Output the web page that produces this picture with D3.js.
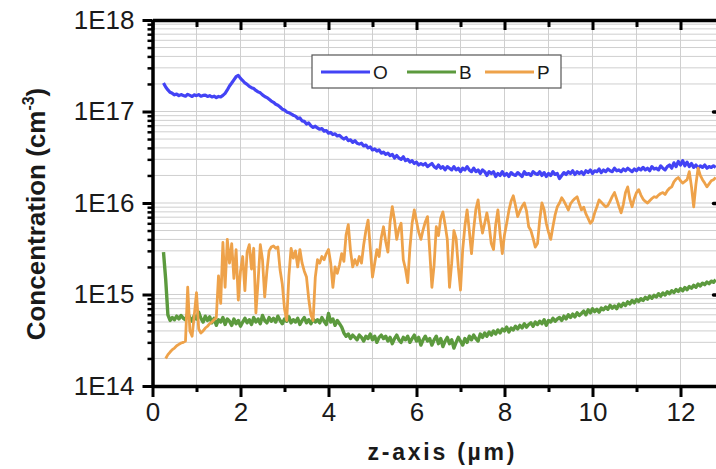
<!DOCTYPE html>
<html lang="en">
<head>
<meta charset="UTF-8">
<title>SIMS depth profile</title>
<script src="https://cdn.jsdelivr.net/npm/d3@7/dist/d3.min.js"></script>
<style>
  body { margin: 0; background: #fff; }
  svg { display: block; font-family: "Liberation Sans", Arial, sans-serif; }
  .grid line { stroke: #cfcfcf; stroke-width: 1; }
  .axis path, .axis line { stroke: #000; }
  .axis text { fill: #1a1a1a; font-size: 26px; }
</style>
</head>
<body>
<div id="chart"></div>
<script>
// depth sampling (µm) of each profile
const depthStep = 0.05;
const oStart = 0.25, bStart = 0.25, pStart = 0.30;

// O concentration (cm^-3), every 0.05 µm from 0.25 µm
const oxygen = [
  2.05e17, 1.85e17, 1.72e17, 1.62e17, 1.58e17, 1.52e17, 1.55e17, 1.49e17, 1.53e17, 1.50e17,
  1.47e17, 1.54e17, 1.50e17, 1.46e17, 1.52e17, 1.49e17, 1.53e17, 1.47e17, 1.50e17, 1.51e17,
  1.46e17, 1.49e17, 1.44e17, 1.47e17, 1.42e17, 1.46e17, 1.44e17, 1.50e17, 1.58e17, 1.72e17,
  1.90e17, 2.05e17, 2.22e17, 2.40e17, 2.48e17, 2.30e17, 2.18e17, 2.05e17, 1.98e17, 1.88e17,
  1.82e17, 1.78e17, 1.70e17, 1.64e17, 1.60e17, 1.52e17, 1.46e17, 1.42e17, 1.36e17, 1.30e17,
  1.26e17, 1.20e17, 1.17e17, 1.12e17, 1.06e17, 1.04e17, 9.9e16, 9.7e16, 9.4e16, 9.1e16,
  8.9e16, 8.4e16, 8.5e16, 7.9e16, 7.8e16, 7.3e16, 7.5e16, 7.0e16, 6.7e16, 6.9e16,
  6.6e16, 6.4e16, 6.5e16, 6.1e16, 6.2e16, 5.8e16, 5.9e16, 5.6e16, 5.7e16, 5.4e16,
  5.5e16, 5.2e16, 5.0e16, 5.2e16, 4.8e16, 4.9e16, 4.6e16, 4.8e16, 4.5e16, 4.4e16,
  4.5e16, 4.2e16, 4.3e16, 4.0e16, 4.1e16, 3.8e16, 3.9e16, 3.7e16, 3.8e16, 3.5e16,
  3.6e16, 3.4e16, 3.5e16, 3.3e16, 3.4e16, 3.1e16, 3.3e16, 3.1e16, 3.0e16, 3.2e16,
  2.9e16, 3.0e16, 2.8e16, 2.9e16, 2.7e16, 2.8e16, 2.6e16, 2.7e16, 2.6e16, 2.7e16,
  2.5e16, 2.6e16, 2.7e16, 2.5e16, 2.4e16, 2.6e16, 2.4e16, 2.5e16, 2.3e16, 2.5e16,
  2.4e16, 2.3e16, 2.5e16, 2.3e16, 2.4e16, 2.2e16, 2.4e16, 2.3e16, 2.5e16, 2.3e16,
  2.2e16, 2.4e16, 2.2e16, 2.3e16, 2.1e16, 2.3e16, 2.2e16, 2.0e16, 2.2e16, 2.1e16,
  2.2e16, 1.95e16, 2.1e16, 2.0e16, 2.2e16, 2.0e16, 2.1e16, 1.95e16, 2.15e16, 2.05e16,
  2.0e16, 2.15e16, 2.05e16, 1.95e16, 2.2e16, 2.05e16, 2.1e16, 2.0e16, 2.2e16, 2.1e16,
  2.05e16, 2.2e16, 2.0e16, 2.15e16, 1.95e16, 2.1e16, 2.0e16, 2.2e16, 2.05e16, 2.1e16,
  1.85e16, 2.0e16, 2.15e16, 2.05e16, 2.2e16, 2.1e16, 2.25e16, 2.05e16, 2.2e16, 2.1e16,
  2.2e16, 2.05e16, 2.25e16, 2.15e16, 2.3e16, 2.1e16, 2.25e16, 2.2e16, 2.35e16, 2.15e16,
  2.3e16, 2.2e16, 2.35e16, 2.25e16, 2.2e16, 2.4e16, 2.25e16, 2.3e16, 2.2e16, 2.35e16,
  2.25e16, 2.4e16, 2.3e16, 2.2e16, 2.35e16, 2.25e16, 2.4e16, 2.3e16, 2.45e16, 2.3e16,
  2.4e16, 2.25e16, 2.5e16, 2.35e16, 2.4e16, 2.3e16, 2.55e16, 2.4e16, 2.3e16, 2.5e16,
  2.6e16, 2.4e16, 2.75e16, 2.5e16, 2.85e16, 2.6e16, 2.9e16, 2.55e16, 2.8e16, 2.5e16,
  2.7e16, 2.45e16, 2.6e16, 2.4e16, 2.55e16, 2.45e16, 2.6e16, 2.4e16, 2.5e16, 2.45e16,
  2.55e16, 2.45e16
];

// B concentration, every 0.05 µm from 0.25 µm
const boron = [
  2.9e15, 1.45e15, 6.0e14, 5.2e14, 5.6e14, 5.3e14, 5.8e14, 5.4e14, 5.9e14, 5.5e14,
  5.3e14, 6.2e14, 5.6e14, 5.1e14, 5.9e14, 5.4e14, 6.4e14, 5.5e14, 5.0e14, 5.8e14,
  5.2e14, 5.7e14, 4.9e14, 5.5e14, 4.6e14, 5.3e14, 5.0e14, 5.6e14, 4.7e14, 5.4e14,
  5.1e14, 4.6e14, 5.4e14, 4.8e14, 5.2e14, 4.5e14, 5.0e14, 5.5e14, 4.9e14, 5.3e14,
  4.7e14, 5.6e14, 5.0e14, 5.4e14, 4.8e14, 5.9e14, 5.2e14, 4.9e14, 5.6e14, 5.1e14,
  5.5e14, 5.0e14, 5.8e14, 5.2e14, 4.8e14, 5.4e14, 5.1e14, 5.7e14, 4.9e14, 5.3e14,
  5.0e14, 5.5e14, 4.7e14, 5.2e14, 5.6e14, 4.9e14, 5.3e14, 4.8e14, 5.4e14, 5.0e14,
  5.3e14, 4.9e14, 5.6e14, 5.1e14, 4.7e14, 6.2e14, 5.0e14, 5.4e14, 4.6e14, 5.2e14,
  4.8e14, 4.4e14, 3.8e14, 3.5e14, 3.7e14, 3.3e14, 3.6e14, 3.4e14, 3.2e14, 3.6e14,
  3.4e14, 3.1e14, 3.5e14, 3.3e14, 3.7e14, 3.2e14, 3.5e14, 3.0e14, 3.4e14, 3.6e14,
  3.3e14, 3.5e14, 3.1e14, 3.4e14, 2.9e14, 3.3e14, 3.6e14, 3.2e14, 3.0e14, 3.4e14,
  3.2e14, 3.5e14, 3.0e14, 3.3e14, 3.6e14, 3.1e14, 3.4e14, 2.8e14, 3.2e14, 3.5e14,
  3.1e14, 3.3e14, 2.8e14, 3.2e14, 3.5e14, 2.9e14, 3.3e14, 2.7e14, 3.1e14, 3.4e14,
  2.9e14, 3.2e14, 2.6e14, 3.0e14, 3.4e14, 3.1e14, 2.8e14, 3.3e14, 3.0e14, 3.5e14,
  3.2e14, 3.6e14, 3.3e14, 3.1e14, 3.7e14, 3.4e14, 3.8e14, 3.5e14, 3.9e14, 3.6e14,
  4.0e14, 3.7e14, 4.1e14, 3.8e14, 4.2e14, 4.0e14, 4.4e14, 3.9e14, 4.3e14, 4.1e14,
  4.5e14, 4.2e14, 4.6e14, 4.3e14, 4.8e14, 4.4e14, 4.7e14, 4.9e14, 4.5e14, 5.0e14,
  4.7e14, 5.1e14, 4.8e14, 5.3e14, 4.6e14, 5.2e14, 5.0e14, 5.5e14, 5.1e14, 5.4e14,
  5.6e14, 5.2e14, 5.8e14, 5.4e14, 6.0e14, 5.6e14, 6.1e14, 5.7e14, 6.3e14, 5.9e14,
  6.2e14, 6.6e14, 6.0e14, 6.8e14, 6.3e14, 7.0e14, 6.5e14, 6.9e14, 6.4e14, 7.1e14,
  6.8e14, 7.3e14, 6.9e14, 7.6e14, 7.1e14, 7.5e14, 7.0e14, 7.8e14, 7.4e14, 8.0e14,
  7.6e14, 8.3e14, 7.9e14, 8.6e14, 8.1e14, 8.8e14, 8.4e14, 9.0e14, 8.6e14, 9.3e14,
  8.9e14, 9.6e14, 9.1e14, 9.8e14, 9.4e14, 1.02e15, 9.6e14, 1.04e15, 9.9e14, 1.07e15,
  1.02e15, 1.10e15, 1.05e15, 1.13e15, 1.08e15, 1.16e15, 1.10e15, 1.19e15, 1.13e15, 1.22e15,
  1.17e15, 1.26e15, 1.20e15, 1.30e15, 1.24e15, 1.33e15, 1.28e15, 1.37e15, 1.31e15, 1.40e15,
  1.36e15, 1.45e15
];

// P concentration, every 0.05 µm from 0.30 µm
const phosphorus = [
  2.0e14, 2.2e14, 2.35e14, 2.5e14, 2.6e14, 2.75e14, 2.85e14, 2.95e14, 3.0e14, 3.1e14,
  1.2e15, 4.0e14, 3.5e14, 6.0e14, 1.05e15, 4.2e14, 3.8e14, 4.0e14, 4.3e14, 4.5e14,
  4.8e14, 5.0e14, 5.3e14, 5.6e14, 1.6e15, 8.0e14, 3.7e15, 1.2e15, 4.0e15, 2.2e15,
  3.6e15, 1.5e15, 3.1e15, 8.7e14, 1.8e15, 2.6e15, 1.1e15, 2.9e15, 3.5e15, 1.9e15,
  3.2e15, 6.3e14, 1.4e15, 3.5e15, 2.4e15, 9.4e14, 1.8e15, 3.0e15, 3.3e15, 3.4e15,
  3.2e15, 3.3e15, 1.85e15, 1.3e15, 7.0e14, 5.2e14, 1.6e15, 3.2e15, 2.5e15, 3.0e15,
  2.0e15, 3.1e15, 2.2e15, 1.8e15, 1.55e15, 9.0e14, 6.0e14, 5.2e14, 1.55e15, 2.4e15,
  2.2e15, 2.6e15, 2.4e15, 2.8e15, 3.1e15, 2.2e15, 1.2e15, 2.0e15, 1.7e15, 2.1e15,
  2.8e15, 2.3e15, 4.5e15, 5.8e15, 3.0e15, 2.0e15, 2.4e15, 2.1e15, 2.6e15, 2.2e15,
  3.5e15, 5.0e15, 6.5e15, 3.2e15, 1.55e15, 2.2e15, 3.1e15, 2.6e15, 4.2e15, 5.5e15,
  3.8e15, 2.9e15, 6.2e15, 9.1e15, 6.5e15, 4.0e15, 5.2e15, 6.0e15, 2.4e15, 1.9e15,
  1.35e15, 3.2e15, 6.0e15, 8.4e15, 6.3e15, 4.8e15, 4.0e15, 5.1e15, 6.2e15, 7.1e15,
  3.0e15, 1.2e15, 2.1e15, 5.5e15, 4.4e15, 6.8e15, 8.0e15, 5.8e15, 4.0e15, 1.2e15,
  2.2e15, 5.0e15, 4.1e15, 2.0e15, 1.12e15, 3.1e15, 5.6e15, 8.4e15, 5.0e15, 2.8e15,
  5.2e15, 8.6e15, 1.08e16, 6.5e15, 4.7e15, 6.0e15, 7.8e15, 5.7e15, 3.6e15, 3.1e15,
  5.8e15, 8.4e15, 4.6e15, 2.8e15, 4.5e15, 6.0e15, 8.3e15, 1.05e16, 1.2e16, 9.4e15,
  7.1e15, 8.2e15, 9.2e15, 1.0e16, 8.2e15, 5.5e15, 5.0e15, 4.1e15, 3.3e15, 3.6e15,
  6.5e15, 1.0e16, 8.5e15, 6.0e15, 4.8e15, 4.0e15, 5.5e15, 7.4e15, 9.1e15, 1.0e16,
  1.14e16, 1.05e16, 9.4e15, 8.4e15, 9.8e15, 1.06e16, 1.12e16, 1.17e16, 9.8e15, 8.4e15,
  9.0e15, 7.6e15, 6.8e15, 6.0e15, 6.4e15, 7.8e15, 9.1e15, 1.08e16, 1.02e16, 9.6e15,
  9.1e15, 9.4e15, 1.05e16, 1.18e16, 1.3e16, 1.1e16, 9.2e15, 7.8e15, 9.6e15, 1.3e16,
  1.5e16, 1.1e16, 9.1e15, 1.12e16, 1.3e16, 1.4e16, 1.22e16, 1.1e16, 1.04e16, 1.0e16,
  1.06e16, 1.12e16, 1.17e16, 1.15e16, 1.22e16, 1.27e16, 1.3e16, 1.24e16, 1.36e16, 1.45e16,
  1.5e16, 1.7e16, 1.82e16, 1.9e16, 1.75e16, 1.65e16, 1.72e16, 1.8e16, 2.2e16, 1.5e16,
  9.1e15, 1.6e16, 2.4e16, 2.0e16, 1.8e16, 1.65e16, 1.5e16, 1.62e16, 1.75e16, 1.8e16,
  1.9e16
];

const seriesNames = ["O", "B", "P"];
const seriesColors = ["#4343f5", "#5c9a3e", "#eea24a"];
const seriesWidths = [3.2, 3.4, 2.8];
const xTicks = [0, 2, 4, 6, 8, 10, 12];
const xMinorTicks = [1, 3, 5, 7, 9, 11, 13];
const yTicks = [1e14, 1e15, 1e16, 1e17, 1e18];
const yTickLabels = ["1E14", "1E15", "1E16", "1E17", "1E18"];

const width = 716, height = 469;
const plotL = 152.5, plotR = 724.5, plotT = 20, plotB = 386;

const svg = d3.select("#chart").append("svg")
    .attr("width", width)
    .attr("height", height);

const x = d3.scaleLinear().domain([0, 13]).range([plotL, plotR]);
const y = d3.scaleLog().domain([1e14, 1e18]).range([plotB, plotT]);

// minor log positions 2..9 per decade
const yMinor = [];
yTicks.slice(0, -1).forEach(d => {
    for (let k = 2; k <= 9; k++) yMinor.push(d * k);
});

// grid
const grid = svg.append("g").attr("class", "grid");
grid.selectAll("line.v")
    .data(d3.range(0, 14))
    .enter().append("line")
    .attr("x1", d => x(d)).attr("x2", d => x(d))
    .attr("y1", plotT).attr("y2", plotB);
grid.selectAll("line.h")
    .data(yMinor.concat(yTicks))
    .enter().append("line")
    .attr("x1", plotL).attr("x2", plotR)
    .attr("y1", d => y(d)).attr("y2", d => y(d));

// profiles
svg.append("clipPath").attr("id", "plotClip")
    .append("rect")
    .attr("x", plotL).attr("y", plotT)
    .attr("width", plotR - plotL).attr("height", plotB - plotT);

const line = d3.line()
    .x(d => x(d[0]))
    .y(d => y(d[1]));

const profiles = [
    { start: oStart, values: oxygen },
    { start: bStart, values: boron },
    { start: pStart, values: phosphorus }
];

profiles.forEach((p, i) => {
    const pts = p.values.map((v, j) => [p.start + j * depthStep, v]);
    svg.append("path")
        .datum(pts)
        .attr("clip-path", "url(#plotClip)")
        .attr("fill", "none")
        .attr("stroke", seriesColors[i])
        .attr("stroke-width", seriesWidths[i])
        .attr("stroke-linejoin", "round")
        .attr("d", line);
});

// axes
const fmtY = d => yTickLabels[yTicks.indexOf(d)];

svg.append("g").attr("class", "axis")
    .attr("transform", `translate(${plotL},0)`)
    .call(d3.axisLeft(y).tickValues(yMinor).tickSize(5).tickFormat(""))
    .call(g => g.selectAll("line").attr("stroke-width", 2.5))
    .call(g => g.select(".domain").remove());

svg.append("g").attr("class", "axis")
    .attr("transform", `translate(${plotL},0)`)
    .call(d3.axisLeft(y).tickValues(yTicks).tickSize(10).tickSizeOuter(0).tickPadding(8).tickFormat(fmtY))
    .call(g => g.selectAll("line").attr("stroke-width", 3))
    .call(g => g.select(".domain").attr("stroke-width", 3.5));

// right axis, mostly outside the window
svg.append("g").attr("class", "axis")
    .attr("transform", `translate(${plotR},0)`)
    .call(d3.axisLeft(y).tickValues(yTicks.slice(1, -1)).tickSize(11).tickFormat(""))
    .call(g => g.selectAll("line").attr("stroke-width", 3.5).attr("stroke-linecap", "round"))
    .call(g => g.select(".domain").remove());

svg.append("g").attr("class", "axis")
    .attr("transform", `translate(0,${plotB})`)
    .call(d3.axisBottom(x).tickValues(xMinorTicks).tickSize(6).tickFormat(""))
    .call(g => g.selectAll("line").attr("stroke-width", 3))
    .call(g => g.select(".domain").remove());

svg.append("g").attr("class", "axis")
    .attr("transform", `translate(0,${plotB})`)
    .call(d3.axisBottom(x).tickValues(xTicks).tickSize(11).tickSizeOuter(0).tickPadding(6).tickFormat(d3.format("d")))
    .call(g => g.selectAll("line").attr("stroke-width", 3))
    .call(g => g.select(".domain").attr("stroke-width", 3.5));

// top frame with inward ticks
svg.append("g").attr("class", "axis")
    .attr("transform", `translate(0,${plotT})`)
    .call(d3.axisBottom(x).tickValues(xMinorTicks).tickSize(7).tickFormat(""))
    .call(g => g.selectAll("line").attr("stroke-width", 3))
    .call(g => g.select(".domain").remove());

svg.append("g").attr("class", "axis")
    .attr("transform", `translate(0,${plotT})`)
    .call(d3.axisBottom(x).tickValues(xTicks).tickSize(10).tickSizeOuter(0).tickFormat(""))
    .call(g => g.selectAll("line").attr("stroke-width", 3))
    .call(g => g.select(".domain").attr("stroke-width", 3.5));

// axis titles
svg.append("text")
    .attr("x", 441).attr("y", 460)
    .attr("text-anchor", "middle")
    .attr("font-size", 23).attr("font-weight", "bold")
    .attr("fill", "#1a1a1a")
    .attr("textLength", 147).attr("lengthAdjust", "spacing")
    .text("z-axis (\u00b5m)");

const yTitle = svg.append("text")
    .attr("transform", "translate(45,214) rotate(-90)")
    .attr("text-anchor", "middle")
    .attr("font-size", 26).attr("font-weight", "bold")
    .attr("fill", "#1a1a1a");
yTitle.append("tspan").text("Concentration (cm");
yTitle.append("tspan").attr("font-size", 16).attr("dy", -11).text("-3");
yTitle.append("tspan").attr("dy", 11).text(")");

// legend
const lg = svg.append("g").attr("transform", "translate(312,55)");
lg.append("rect")
    .attr("width", 249).attr("height", 33)
    .attr("fill", "#fff").attr("stroke", "#555").attr("stroke-width", 1.2);
const lgX = [9, 95, 173];
seriesNames.forEach((name, i) => {
    lg.append("line")
        .attr("x1", lgX[i]).attr("x2", lgX[i] + 49)
        .attr("y1", 17).attr("y2", 17)
        .attr("stroke", seriesColors[i]).attr("stroke-width", 3);
    lg.append("text")
        .attr("x", lgX[i] + 52).attr("y", 24)
        .attr("font-size", 19).attr("fill", "#1a1a1a")
        .text(name);
});
</script>
</body>
</html>
